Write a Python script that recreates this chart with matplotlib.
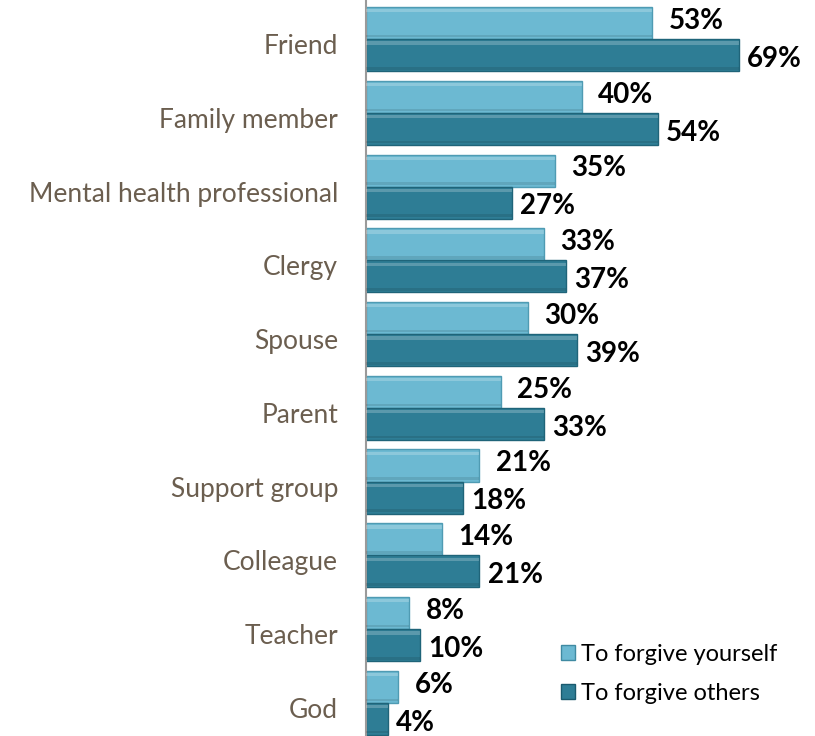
import matplotlib.pyplot as plt
import numpy as np

plt.rcParams['font.family'] = ['Lato', 'DejaVu Sans']

categories = ['Friend', 'Family member', 'Mental health professional', 'Clergy',
              'Spouse', 'Parent', 'Support group', 'Colleague', 'Teacher', 'God']
forgive_yourself = [53, 40, 35, 33, 30, 25, 21, 14, 8, 6]
forgive_others = [69, 54, 27, 37, 39, 33, 18, 21, 10, 4]

light = '#6cb9d2'
dark = '#2e7d95'

fig = plt.figure(figsize=(8.15, 7.36), dpi=100)
ax = fig.add_axes([366 / 815, 0.0, 432 / 815, 1.0])

y = np.arange(len(categories))
h = 0.435

def bevel_bars(ypos, vals, color, edge):
    ax.barh(ypos, vals, height=h, color=color, edgecolor=edge, linewidth=1.0, zorder=2)
    # light strip along the top edge and soft shade along the bottom for a raised look
    ax.barh(ypos - h * 0.38, vals, height=h * 0.1, color='white', alpha=0.22,
            linewidth=0, zorder=3)
    ax.barh(ypos + h * 0.41, vals, height=h * 0.08, color='black', alpha=0.10,
            linewidth=0, zorder=3)

bevel_bars(y - h / 2, forgive_yourself, light, '#4f9bb3')
bevel_bars(y + h / 2, forgive_others, dark, '#1f6479')

for i, (a, b) in enumerate(zip(forgive_yourself, forgive_others)):
    ax.text(a + 3.0, i - h / 2 - 0.03, f'{a}%', va='center', ha='left',
            fontsize=20, fontweight='bold', color='black')
    ax.text(b + 1.5, i + h / 2 + 0.05, f'{b}%', va='center', ha='left',
            fontsize=20, fontweight='bold', color='black')

ax.set_xlim(0, 80)
ax.set_ylim(len(categories) - 0.55, -0.53)
ax.set_yticks(y + 0.07)
ax.set_yticklabels(categories, fontsize=19, color='#6b5e4f')
ax.tick_params(axis='y', length=0, pad=20)
ax.set_xticks([])
for s in ['top', 'right', 'bottom']:
    ax.spines[s].set_visible(False)
ax.spines['left'].set_color('#9a9a9a')
ax.spines['left'].set_linewidth(1.5)

handles = [plt.Rectangle((0, 0), 1, 1, facecolor=light, edgecolor='#3f8aa2'),
           plt.Rectangle((0, 0), 1, 1, facecolor=dark, edgecolor='#1a5a6e')]
ax.legend(handles, ['To forgive yourself', 'To forgive others'],
          loc='upper left', bbox_to_anchor=(0.43, 0.138), frameon=False,
          fontsize=17, handlelength=0.6, handleheight=0.6,
          handletextpad=0.25, labelspacing=0.76, borderaxespad=0)

fig.savefig('out.png', dpi=100)
